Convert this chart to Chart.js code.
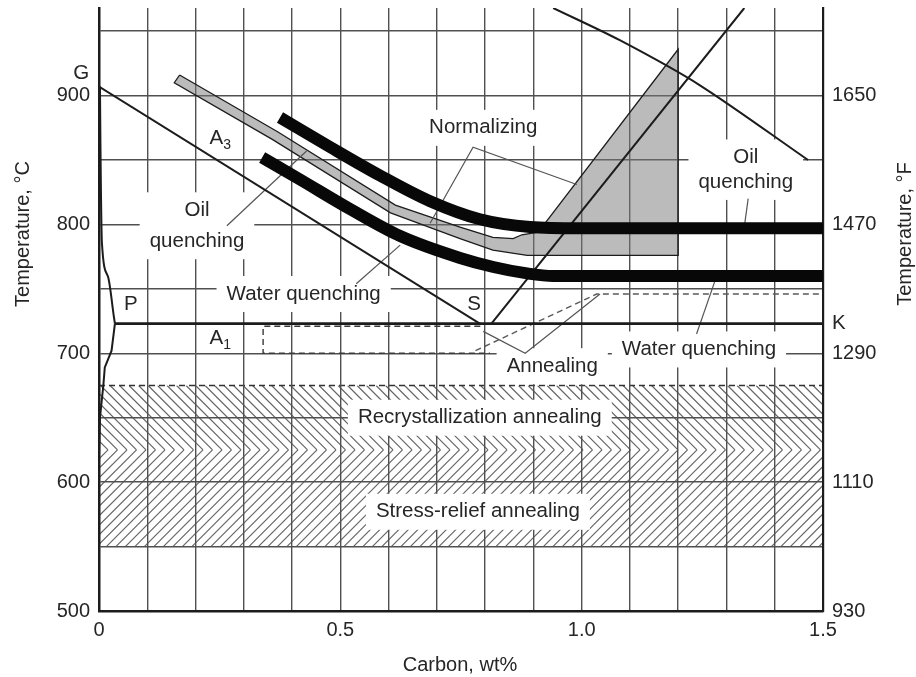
<!DOCTYPE html>
<html>
<head>
<meta charset="utf-8">
<title>Heat-treatment temperature ranges of carbon steels</title>
<script src="https://cdn.jsdelivr.net/npm/chart.js@4.4.1/dist/chart.umd.min.js"></script>
<style>
  html, body { margin: 0; padding: 0; background: #fff; }
  #wrap { position: relative; width: 916px; height: 677px; }
</style>
</head>
<body>
<div id="wrap"><canvas id="chart"></canvas></div>
<script>
// ---------- axes ----------
const carbonTicks = [0, 0.5, 1.0, 1.5];
const celsiusTicks = [500, 600, 700, 800, 900];
const fahrenheitLabels = ['930', '1110', '1290', '1470', '1650'];

// ---------- Fe–C diagram boundaries (carbon wt%, temperature °C) ----------
const gsCarbon = [0, 0.789];
const gsTemp = [907, 723];
const gpCarbon = [0.002, 0.003, 0.004, 0.006, 0.019, 0.031, 0.033];
const gpTemp = [907, 862, 826, 786, 759, 728, 723];
const pqCarbon = [0.033, 0.026, 0.012, 0.009, 0.002, 0.0];
const pqTemp = [723, 702, 689, 675, 650, 620];
const a1Carbon = [0.033, 1.5];
const a1Temp = [723, 723];
const acmCarbon = [0.813, 1.337];
const acmTemp = [723, 968];
const solidusCarbon = [0.941, 1.079, 1.245, 1.469];
const solidusTemp = [968, 943, 908, 850];

// ---------- heat-treatment ranges ----------
const oilQuenchCarbon = [0.375, 0.479, 0.582, 0.686, 0.789, 0.893, 0.996, 1.5];
const oilQuenchTemp = [883, 860, 838, 818, 804, 798, 797, 797];
const waterQuenchCarbon = [0.338, 0.416, 0.520, 0.624, 0.748, 0.817, 0.887, 0.941, 1.5];
const waterQuenchTemp = [852, 835, 812, 791, 774, 767, 762, 760, 760];
const normalizingCarbon = [0.167, 0.370, 0.614, 0.748, 0.816, 0.858, 0.876, 0.91, 1.2, 1.2, 0.887, 0.816, 0.748, 0.604, 0.359, 0.156, 0.167];
const normalizingTemp = [916, 872, 815, 798, 790, 789, 792, 794, 936, 776, 776, 780, 789, 809, 866, 910, 916];
const annealHypoCarbon = [0.79, 0.34, 0.34, 0.81];
const annealHypoTemp = [721, 721, 700, 700];
const annealHyperCarbon = [0.78, 1.031, 1.5];
const annealHyperTemp = [702, 746, 746];
const recrystallizationRange = [625, 675];
const stressReliefRange = [550, 625];

// ---------- leader lines ----------
const normalizingLeaderCarbon = [0.686, 0.775, 0.99];
const normalizingLeaderTemp = [801, 860, 831];
const annealingLeaderCarbon = [0.796, 0.883, 1.038];
const annealingLeaderTemp = [717, 700, 746];
const oilLeftLeaderCarbon = [0.265, 0.43];
const oilLeftLeaderTemp = [799, 857];
const waterLeftLeaderCarbon = [0.533, 0.624];
const waterLeftLeaderTemp = [754, 784];
const oilRightLeaderCarbon = [1.345, 1.338];
const oilRightLeaderTemp = [820, 801];
const waterRightLeaderCarbon = [1.238, 1.276];
const waterRightLeaderTemp = [715, 756];

// ---------- captions (text, anchor in carbon / °C) ----------
const captions = [
  { lines: ['Normalizing'], x: 0.796, y: [875], box: true },
  { lines: ['Oil', 'quenching'], x: 0.203, y: [811, 787], box: true },
  { lines: ['Water quenching'], x: 0.424, y: [746], box: true },
  { lines: ['Annealing'], x: 0.939, y: [690], box: true },
  { lines: ['Water quenching'], x: 1.243, y: [703], box: true },
  { lines: ['Oil', 'quenching'], x: 1.34, y: [852, 833], box: true },
  { lines: ['Recrystallization annealing'], x: 0.789, y: [650], box: true },
  { lines: ['Stress-relief annealing'], x: 0.785, y: [577], box: true },
  { lines: ['P'], x: 0.066, y: [738] },
  { lines: ['S'], x: 0.777, y: [738] },
  { lines: ['G'], x: -0.037, y: [917] },
  { lines: ['K'], x: 1.533, y: [723] }
];
const phaseLabels = [
  { base: 'A', sub: '3', x: 0.251, y: 867 },
  { base: 'A', sub: '1', x: 0.251, y: 712 }
];

const FONT = "'Liberation Sans', Arial, Helvetica, sans-serif";
const INK = '#1c1c1c';
const GRID = '#505050';
const LEAD = '#555555';
const TXT = '#262626';

function pts(xs, ys) { return xs.map((x, i) => ({ x: x, y: ys[i] })); }
function curve(label, xs, ys, extra) {
  return Object.assign({
    label: label, data: pts(xs, ys), showLine: true,
    pointRadius: 0, pointHoverRadius: 0,
    borderColor: INK, borderWidth: 2, fill: false, tension: 0
  }, extra || {});
}

const datasets = [
  curve('Oil quenching', oilQuenchCarbon, oilQuenchTemp,
    { borderWidth: 12, cubicInterpolationMode: 'monotone', clip: 0, borderCapStyle: 'butt', borderColor: '#080808' }),
  curve('Water quenching', waterQuenchCarbon, waterQuenchTemp,
    { borderWidth: 12, cubicInterpolationMode: 'monotone', clip: 0, borderCapStyle: 'butt', borderColor: '#080808' }),
  curve('GS (A3)', gsCarbon, gsTemp),
  curve('GP', gpCarbon, gpTemp, { cubicInterpolationMode: 'monotone' }),
  curve('PQ', pqCarbon, pqTemp),
  curve('A1', a1Carbon, a1Temp, { borderWidth: 2.6 }),
  curve('Acm', acmCarbon, acmTemp),
  curve('Solidus', solidusCarbon, solidusTemp, { tension: 0.3 }),
  curve('Normalizing leader', normalizingLeaderCarbon, normalizingLeaderTemp, { borderWidth: 1.2, borderColor: LEAD }),
  curve('Annealing leader', annealingLeaderCarbon, annealingLeaderTemp, { borderWidth: 1.2, borderColor: LEAD }),
  curve('Oil leader L', oilLeftLeaderCarbon, oilLeftLeaderTemp, { borderWidth: 1.2, borderColor: LEAD }),
  curve('Water leader L', waterLeftLeaderCarbon, waterLeftLeaderTemp, { borderWidth: 1.2, borderColor: LEAD }),
  curve('Oil leader R', oilRightLeaderCarbon, oilRightLeaderTemp, { borderWidth: 1.2, borderColor: LEAD }),
  curve('Water leader R', waterRightLeaderCarbon, waterRightLeaderTemp, { borderWidth: 1.2, borderColor: LEAD }),
  curve('Annealing (hypo)', annealHypoCarbon, annealHypoTemp, { borderWidth: 1.4, borderDash: [6, 4], borderColor: '#3a3a3a' }),
  curve('Annealing (hyper)', annealHyperCarbon, annealHyperTemp, { borderWidth: 1.4, borderDash: [6, 4], borderColor: '#5a5a5a' }),
  curve('Normalizing', normalizingCarbon, normalizingTemp,
    { fill: 'shape', backgroundColor: 'rgba(120,120,120,0.5)', borderWidth: 1.3, order: 10 })
];

function fontPx(size) { return size + 'px ' + FONT; }

// Diagonal hatching for the two annealing bands, meeting in chevrons
function drawHatch(chart) {
  const ctx = chart.ctx, a = chart.chartArea, y = chart.scales.y;
  const yTop = y.getPixelForValue(recrystallizationRange[1]);
  const yMid = y.getPixelForValue(recrystallizationRange[0]);
  const yBot = y.getPixelForValue(stressReliefRange[0]);
  const step = 9.5;
  ctx.save();
  ctx.beginPath();
  ctx.rect(a.left, yTop, a.right - a.left, yBot - yTop);
  ctx.clip();
  ctx.strokeStyle = '#666';
  ctx.lineWidth = 1.2;
  ctx.beginPath();
  for (let x0 = a.left - 200; x0 < a.right + 200; x0 += step) {
    ctx.moveTo(x0, yMid);
    ctx.lineTo(x0 - (yMid - yTop), yTop);
    ctx.moveTo(x0, yMid);
    ctx.lineTo(x0 - (yBot - yMid), yBot);
  }
  ctx.stroke();
  ctx.restore();
  // dashed upper limit of the recrystallization band
  ctx.save();
  ctx.strokeStyle = '#333';
  ctx.lineWidth = 1.6;
  ctx.setLineDash([6, 4]);
  ctx.beginPath();
  ctx.moveTo(a.left, yTop);
  ctx.lineTo(a.right, yTop);
  ctx.stroke();
  ctx.restore();
}

function captionBox(ctx, c, xs, ys) {
  ctx.font = fontPx(20.5);
  let w = 0;
  c.lines.forEach(t => { w = Math.max(w, ctx.measureText(t).width); });
  const px = xs.getPixelForValue(c.x);
  const top = ys.getPixelForValue(c.y[0]) - 11;
  const bot = ys.getPixelForValue(c.y[c.y.length - 1]) + 11;
  return { x: px - w / 2 - 10, y: top - 7, w: w + 20, h: bot - top + 14 };
}

const decorations = {
  id: 'decorations',
  beforeDraw(chart) { drawHatch(chart); },
  beforeDatasetsDraw(chart) {
    const ctx = chart.ctx;
    ctx.save();
    ctx.fillStyle = '#ffffff';
    captions.filter(c => c.box).forEach(c => {
      const b = captionBox(ctx, c, chart.scales.x, chart.scales.y);
      ctx.fillRect(b.x, b.y, b.w, b.h);
    });
    ctx.restore();
  },
  afterDatasetsDraw(chart) {
    const ctx = chart.ctx, xs = chart.scales.x, ys = chart.scales.y;
    ctx.save();
    ctx.fillStyle = TXT;
    ctx.textAlign = 'center';
    ctx.textBaseline = 'middle';
    ctx.font = fontPx(20.5);
    captions.forEach(c => {
      const px = xs.getPixelForValue(c.x);
      c.lines.forEach((t, i) => ctx.fillText(t, px, ys.getPixelForValue(c.y[i])));
    });
    phaseLabels.forEach(p => {
      const px = xs.getPixelForValue(p.x), py = ys.getPixelForValue(p.y);
      ctx.font = fontPx(20.5);
      ctx.textAlign = 'right';
      ctx.fillText(p.base, px + 3, py);
      ctx.font = fontPx(14);
      ctx.textAlign = 'left';
      ctx.fillText(p.sub, px + 3, py + 7);
    });
    // axis titles
    ctx.font = fontPx(20);
    ctx.textAlign = 'center';
    ctx.fillText('Carbon, wt%', 460, 665);
    ctx.save();
    ctx.translate(23, 234);
    ctx.rotate(-Math.PI / 2);
    ctx.fillText('Temperature, °C', 0, 0);
    ctx.restore();
    ctx.save();
    ctx.translate(905, 234);
    ctx.rotate(-Math.PI / 2);
    ctx.fillText('Temperature, °F', 0, 0);
    ctx.restore();
    ctx.restore();
  }
};

const tickFont = { family: FONT, size: 20 };

// fixed plot frame: the scales reserve no extra room for edge labels
function fitVertical(width) {
  return function (s) { s.width = width; s.paddingTop = 0; s.paddingBottom = 0; };
}

new Chart(document.getElementById('chart'), {
  type: 'scatter',
  data: { datasets: datasets },
  options: {
    responsive: true,
    maintainAspectRatio: false,
    animation: false,
    events: [],
    layout: { padding: { top: 8, left: 0, right: 0, bottom: 0 } },
    plugins: { legend: { display: false }, tooltip: { enabled: false } },
    scales: {
      x: {
        type: 'linear', min: 0, max: 1.5,
        afterFit(s) { s.height = 66; s.paddingLeft = 0; s.paddingRight = 0; },
        grid: { color: GRID, lineWidth: 1.4, drawTicks: false },
        border: { color: INK, width: 2.5 },
        ticks: {
          stepSize: 0.1, includeBounds: false, autoSkip: false, maxRotation: 0,
          padding: 7, color: TXT, font: tickFont,
          callback(v) {
            const hit = carbonTicks.find(t => Math.abs(t - v) < 1e-6);
            if (hit === undefined) return '';
            return hit === 0 ? '0' : hit.toFixed(1);
          }
        }
      },
      y: {
        type: 'linear', min: 500, max: 968, position: 'left',
        afterFit: fitVertical(99),
        grid: { color: GRID, lineWidth: 1.4, drawTicks: false },
        border: { color: INK, width: 2.5 },
        ticks: {
          stepSize: 50, includeBounds: false, autoSkip: false,
          padding: 9, color: TXT, font: tickFont,
          callback(v) { return celsiusTicks.includes(v) ? String(v) : ''; }
        }
      },
      y2: {
        type: 'linear', min: 500, max: 968, position: 'right',
        afterFit: fitVertical(93),
        grid: { display: false, drawTicks: false },
        border: { color: INK, width: 2.2 },
        ticks: {
          stepSize: 50, includeBounds: false, autoSkip: false,
          padding: 9, color: TXT, font: tickFont,
          callback(v) {
            const i = celsiusTicks.indexOf(v);
            return i < 0 ? '' : fahrenheitLabels[i];
          }
        }
      }
    }
  },
  plugins: [decorations]
});
</script>
</body>
</html>
